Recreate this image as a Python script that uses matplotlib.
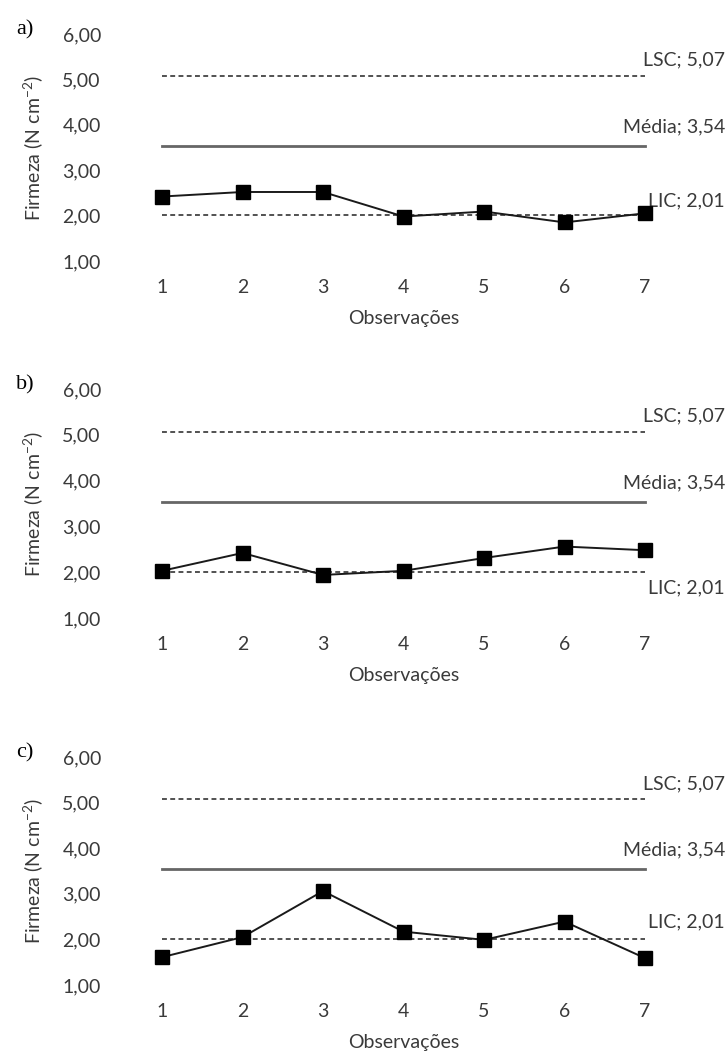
import matplotlib
matplotlib.use("Agg")
import matplotlib.pyplot as plt

# data
observacoes = [1, 2, 3, 4, 5, 6, 7]
firmeza_a = [2.42, 2.52, 2.52, 1.98, 2.09, 1.85, 2.05]
firmeza_b = [2.03, 2.42, 1.94, 2.03, 2.31, 2.56, 2.48]
firmeza_c = [1.61, 2.05, 3.06, 2.17, 1.99, 2.39, 1.59]
panel_names = ["a)", "b)", "c)"]
lsc = 5.07
media = 3.54
lic = 2.01
yticks = [1, 2, 3, 4, 5, 6]
ytick_labels = ["1,00", "2,00", "3,00", "4,00", "5,00", "6,00"]

plt.rcParams["font.family"] = ["Lato", "DejaVu Sans"]
plt.rcParams["mathtext.fontset"] = "custom"
plt.rcParams["mathtext.rm"] = "Lato"

W, H = 728, 1055
fig = plt.figure(figsize=(W / 100, H / 100), dpi=100)

# pixel layout of each panel: (y of 6,00, y of 1,00)
panel_px = [(34, 261), (389, 618), (757, 985)]
lic_offset = [14, -16, 17]  # LIC label above / below the line
left_px, right_px = 121.75, 685.25
txt = "#3a3a3a"


def fmt(v):
    return f"{v:.2f}".replace(".", ",")


for name, vals, (top, bot), lic_dy in zip(panel_names, [firmeza_a, firmeza_b, firmeza_c],
                                          panel_px, lic_offset):
    ax = fig.add_axes([left_px / W, 1 - bot / H, (right_px - left_px) / W, (bot - top) / H])
    n = len(observacoes)
    ax.plot(observacoes, [lsc] * n, color="#222222", lw=1.1, ls=(0, (3.2, 2.2)))
    ax.plot(observacoes, [media] * n, color="#666666", lw=2.0)
    ax.plot(observacoes, [lic] * n, color="#222222", lw=1.1, ls=(0, (3.2, 2.2)))
    ax.plot(observacoes, vals, color="#1a1a1a", lw=1.4, marker="s", ms=9.5,
            mfc="black", mec="black", clip_on=False, zorder=5)

    ax.set_xlim(0.5, 7.5)
    ax.set_ylim(1, 6)
    ax.set_xticks(observacoes)
    ax.set_yticks(yticks)
    ax.set_yticklabels(ytick_labels)
    ax.tick_params(length=0, labelsize=14, colors=txt)
    ax.tick_params(axis="y", pad=15)
    ax.tick_params(axis="x", pad=13)
    for s in ax.spines.values():
        s.set_visible(False)
    ax.set_xlabel("Observações", fontsize=14, color=txt, labelpad=10)
    ax.set_ylabel(r"Firmeza (N cm$^{\mathregular{-2}}$)", fontsize=14, color=txt,
                  labelpad=12)

    for lab, v, dy in [("LSC", lsc, 16), ("Média", media, 19), ("LIC", lic, lic_dy)]:
        ax.annotate(f"{lab}; {fmt(v)}", xy=(7, v), xytext=(80, dy), textcoords="offset pixels",
                    ha="right", va="center", fontsize=14, color=txt,
                    annotation_clip=False)

    fig.text(25 / W, 1 - (top - 4) / H, name, ha="center", va="center",
             fontsize=16, family="Liberation Serif", color="black")

fig.savefig("out.png", dpi=100)
